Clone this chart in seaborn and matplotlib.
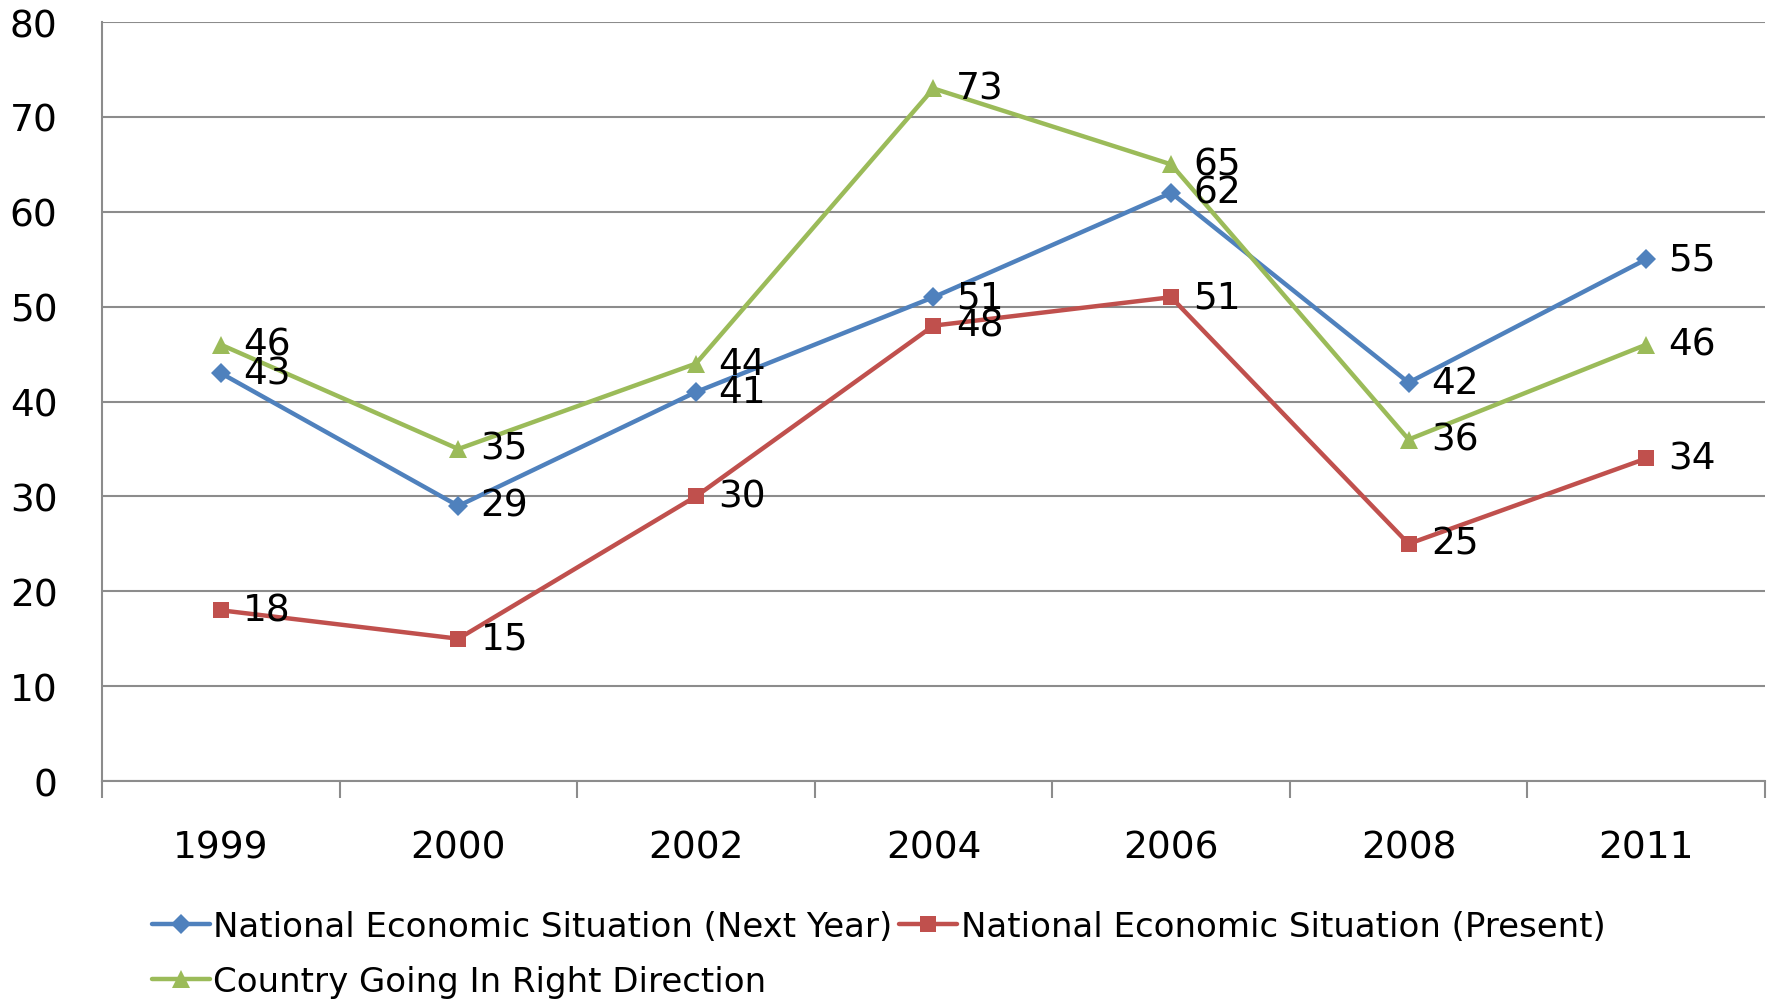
import matplotlib
matplotlib.use("Agg")
import matplotlib.pyplot as plt
import seaborn as sns
import pandas as pd
from matplotlib.ticker import FixedLocator, NullFormatter

years = ["1999", "2000", "2002", "2004", "2006", "2008", "2011"]
next_year = [43, 29, 41, 51, 62, 42, 55]
present = [18, 15, 30, 48, 51, 25, 34]
right_dir = [46, 35, 44, 73, 65, 36, 46]
series_names = ["National Economic Situation (Next Year)",
                "National Economic Situation (Present)",
                "Country Going In Right Direction"]
y_ticks = [0, 10, 20, 30, 40, 50, 60, 70, 80]

sns.set_theme(style="white")
plt.rcParams['font.family'] = ['DejaVu Sans']
plt.rcParams['text.color'] = 'black'

fig = plt.figure(figsize=(17.73, 10.03), dpi=100)
ax = fig.add_axes([0.0575, 0.2203, 0.938, 0.7567])

colors = ["#4F81BD", "#C0504D", "#9BBB59"]
markers = ["D", "s", "^"]
msizes = [10, 11, 13]
data = [next_year, present, right_dir]

for name, vals, c, m, ms in zip(series_names, data, colors, markers, msizes):
    df = pd.DataFrame({"year": years, "value": vals})
    sns.lineplot(data=df, x="year", y="value", ax=ax, color=c, marker=m,
                 markersize=ms, markeredgewidth=0, linewidth=3.2, label=name,
                 sort=False)
    for i, v in enumerate(vals):
        ax.annotate(str(v), (i, v), xytext=(16, 0), textcoords="offset points",
                    ha="left", va="center", fontsize=27, color="black")

handles, labels = ax.get_legend_handles_labels()
order = [0, 2, 1]
leg = ax.legend([handles[i] for i in order], [labels[i] for i in order],
                loc="upper left", bbox_to_anchor=(0.022, -0.152), ncol=2,
                frameon=False, fontsize=24.5, handlelength=1.7, handletextpad=0.1,
                columnspacing=0.2, labelspacing=0.65, borderaxespad=0)
for t in leg.get_texts():
    t.set_color("black")

ax.set_xlim(-0.5, 6.5)
ax.set_ylim(0, 80)
ax.set_yticks(y_ticks)
ax.set_xlabel("")
ax.set_ylabel("")
ax.grid(axis="y", color="#8c8c8c", linewidth=1.5)
ax.grid(axis="x", visible=False)
for s in ["top", "right"]:
    ax.spines[s].set_visible(False)
for s in ["left", "bottom"]:
    ax.spines[s].set_color("#8c8c8c")
    ax.spines[s].set_linewidth(1.5)

ax.tick_params(axis="y", labelsize=27, length=0, pad=32, labelcolor="black")
ax.tick_params(axis="x", which="major", labelsize=27, length=0, pad=35,
               labelcolor="black")
ax.xaxis.set_minor_locator(FixedLocator([i - 0.5 for i in range(8)]))
ax.xaxis.set_minor_formatter(NullFormatter())
ax.tick_params(axis="x", which="minor", length=12, width=1.5, color="#8c8c8c",
               direction="out", bottom=True)
ax.set_axisbelow(True)

fig.savefig("out.png", dpi=100)
